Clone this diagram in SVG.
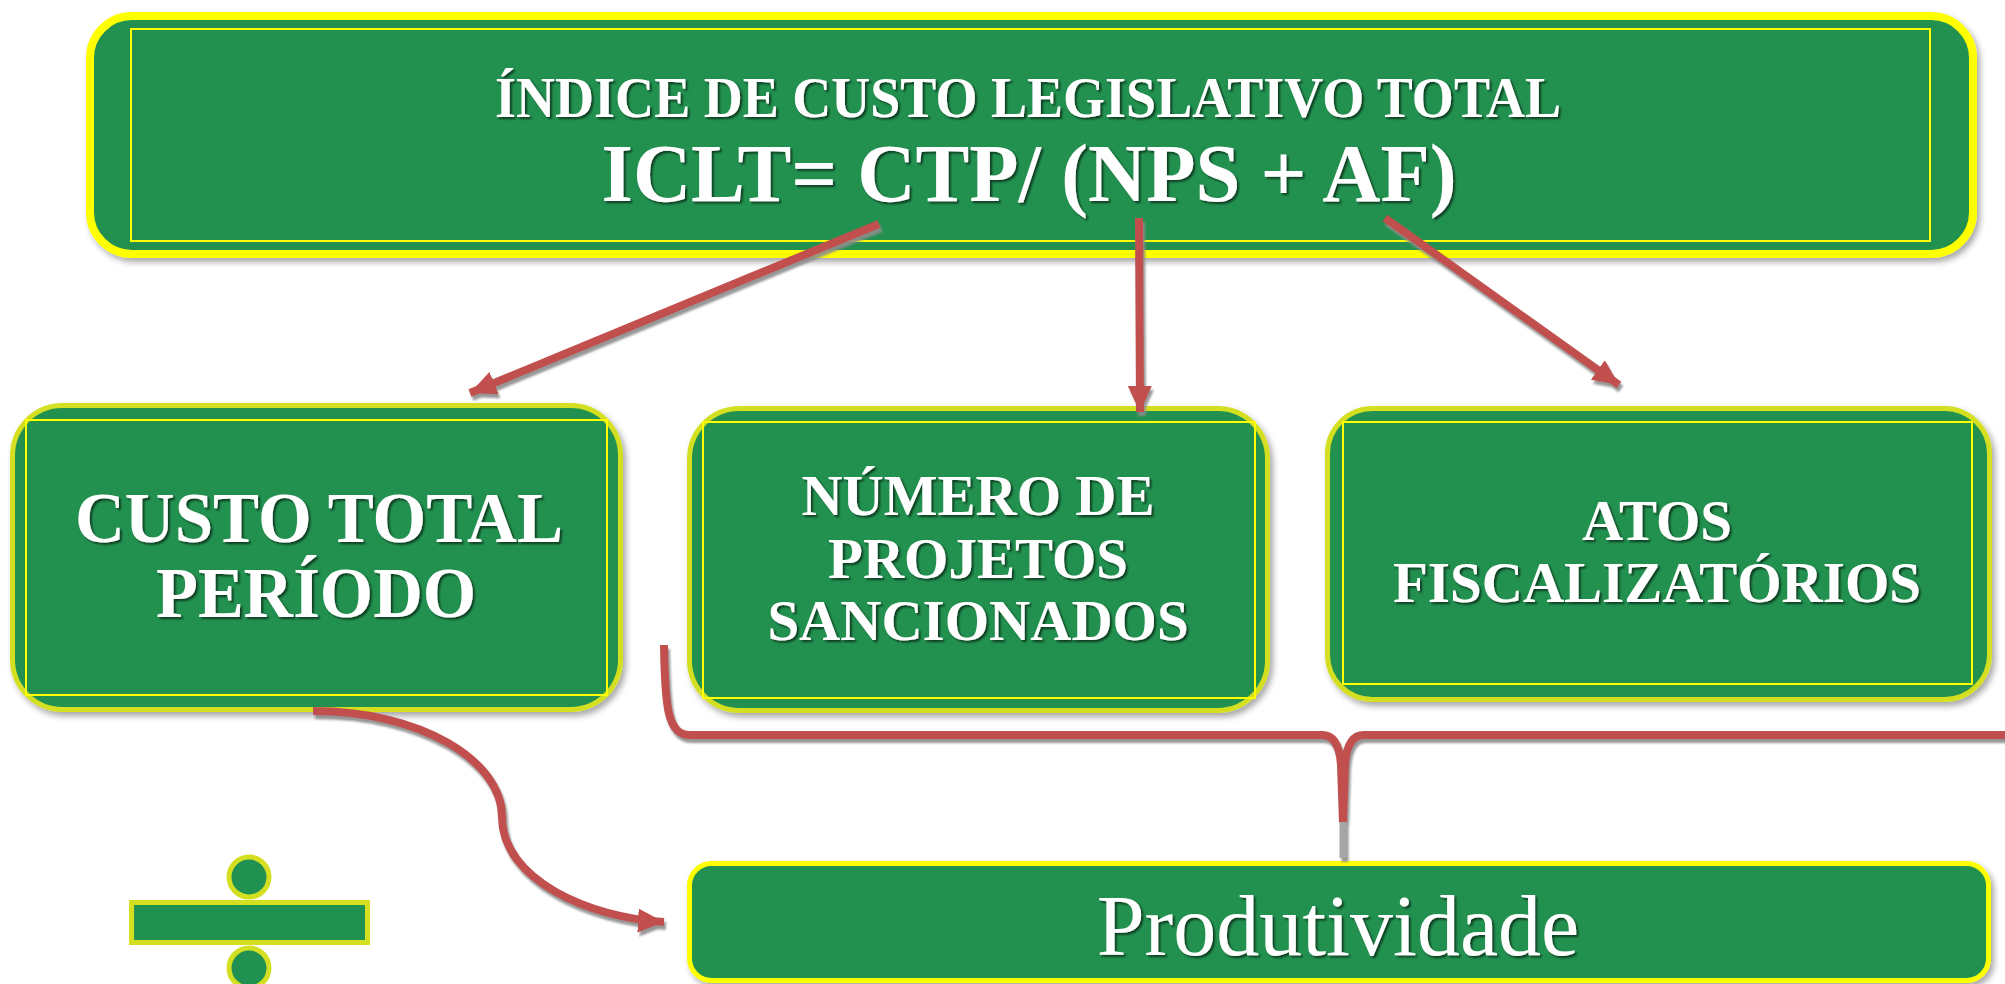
<svg xmlns="http://www.w3.org/2000/svg" width="2005" height="984" viewBox="0 0 2005 984">
<defs>
<filter id="boxShadow" x="-5%" y="-5%" width="110%" height="115%"><feDropShadow dx="3" dy="4" stdDeviation="3" flood-color="#000" flood-opacity="0.35"/></filter>
<filter id="txtShadow" x="-5%" y="-10%" width="110%" height="130%"><feDropShadow dx="2" dy="2" stdDeviation="1.2" flood-color="#000" flood-opacity="0.6"/></filter>
<filter id="lnShadow" x="-10%" y="-10%" width="120%" height="120%"><feDropShadow dx="2" dy="4" stdDeviation="1" flood-color="#8c8c8c" flood-opacity="0.9"/></filter>
<marker id="ah" markerUnits="userSpaceOnUse" markerWidth="30" markerHeight="26" refX="26" refY="12" orient="auto"><path d="M0,0 L26,12 L0,24 Z" fill="#C0504D"/></marker>
<style>
.top{fill:#209150;stroke:#FFFF00;stroke-width:8}
.mid{fill:#209150;stroke:#D4DF22;stroke-width:5}
.bot{fill:#209150;stroke:#FFFF00;stroke-width:5}
.inner{fill:none;stroke:#FFFF00;stroke-width:2}
.t{font-family:"Liberation Serif","Times New Roman",serif;font-weight:bold;fill:#fff;text-anchor:middle}
.tr{font-family:"Liberation Serif","Times New Roman",serif;fill:#fff;text-anchor:middle}
.ln{fill:none;stroke:#C0504D;stroke-width:8}
.sym{fill:#209150;stroke:#D4DF22;stroke-width:5}
</style>
</defs>

<g id="node-top">
<rect class="top" x="90" y="16" width="1883" height="238" rx="42" filter="url(#boxShadow)"/>
<rect class="inner" x="131" y="29" width="1799" height="212"/>
<g filter="url(#txtShadow)">
<text class="t" x="1028" y="117" font-size="56" textLength="1066" lengthAdjust="spacingAndGlyphs">ÍNDICE DE CUSTO LEGISLATIVO TOTAL</text>
<text class="t" x="1029" y="201" font-size="83" textLength="855" lengthAdjust="spacingAndGlyphs">ICLT= CTP/ (NPS + AF)</text>
</g>
</g>

<g id="node-custo">
<rect class="mid" x="12.5" y="405.5" width="608" height="304" rx="50" filter="url(#boxShadow)"/>
<rect class="inner" x="26" y="420" width="581" height="275"/>
<g filter="url(#txtShadow)">
<text class="t" x="319" y="542" font-size="71" textLength="488" lengthAdjust="spacingAndGlyphs">CUSTO TOTAL</text>
<text class="t" x="316" y="617" font-size="71" textLength="320" lengthAdjust="spacingAndGlyphs">PERÍODO</text>
</g>
</g>

<g id="node-numero">
<rect class="mid" x="689.5" y="408.5" width="578" height="302" rx="50" filter="url(#boxShadow)"/>
<rect class="inner" x="703" y="422" width="552" height="276"/>
<g filter="url(#txtShadow)">
<text class="t" x="978" y="515" font-size="57">NÚMERO DE</text>
<text class="t" x="978" y="578" font-size="57">PROJETOS</text>
<text class="t" x="978" y="640" font-size="57">SANCIONADOS</text>
</g>
</g>

<g id="node-atos">
<rect class="mid" x="1327.5" y="408.5" width="662" height="291" rx="45" filter="url(#boxShadow)"/>
<rect class="inner" x="1343" y="422" width="629" height="262"/>
<g filter="url(#txtShadow)">
<text class="t" x="1657" y="540" font-size="57">ATOS</text>
<text class="t" x="1657" y="602" font-size="57">FISCALIZATÓRIOS</text>
</g>
</g>

<g id="node-produtividade">
<rect class="bot" x="689.5" y="863.5" width="1299" height="117" rx="22" filter="url(#boxShadow)"/>
<text class="tr" x="1338" y="955" font-size="86" filter="url(#txtShadow)">Produtividade</text>
</g>

<g id="node-divisao">
<circle class="sym" cx="249" cy="877" r="20"/>
<rect class="sym" x="131.5" y="902.5" width="236" height="40"/>
<circle class="sym" cx="249" cy="968" r="20"/>
</g>

<g id="connectors" filter="url(#lnShadow)">
<line class="ln" x1="879" y1="224" x2="470" y2="393" marker-end="url(#ah)"/>
<line class="ln" x1="1139" y1="218" x2="1140" y2="412" marker-end="url(#ah)"/>
<line class="ln" x1="1385" y1="218" x2="1619" y2="385" marker-end="url(#ah)"/>
<path class="ln" d="M313,711 C420,711 502,760 502,817 C502,880 590,918 664,922" marker-end="url(#ah)"/>
<path class="ln" d="M664,645 C665,705 667,735 690,735 L1322,735 Q1339,735 1341,765 L1343,822"/>
<path class="ln" d="M2010,735 L1364,735 Q1347,735 1345,765 L1343,822"/>
<line x1="1343" y1="822" x2="1343" y2="858" stroke="#A6A6A6" stroke-width="7"/>
</g>
</svg>
